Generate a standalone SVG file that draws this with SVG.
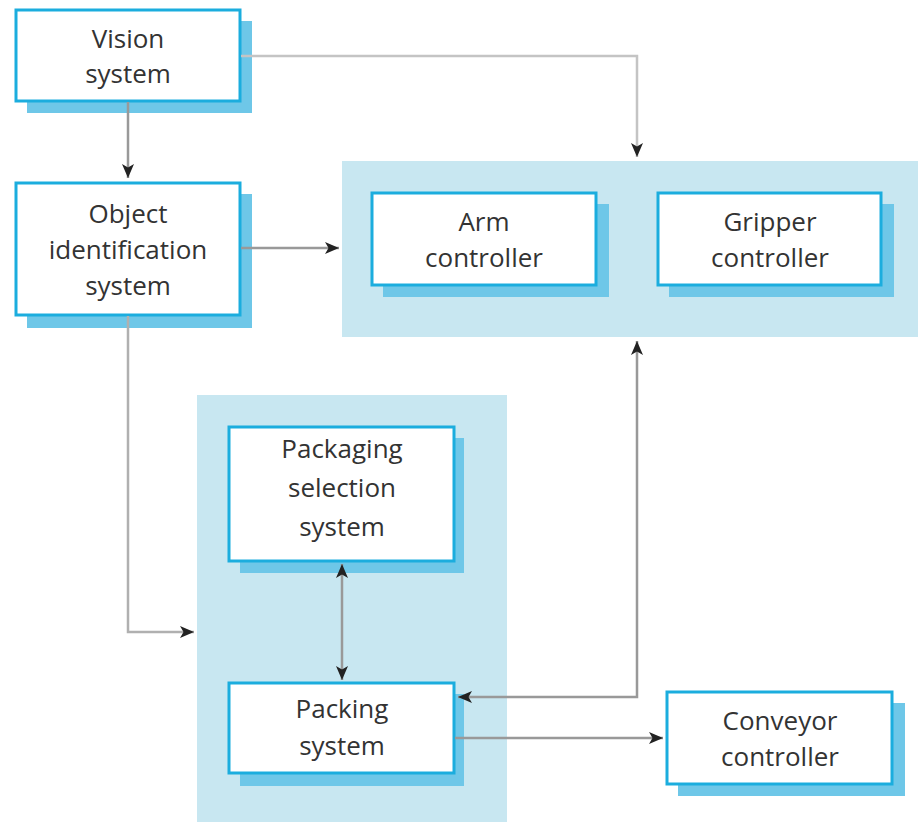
<svg xmlns="http://www.w3.org/2000/svg" width="918" height="822" viewBox="0 0 918 822">
<defs>
<style>
.panel{fill:#c8e7f1;}
.shadow{fill:#6ec7e8;}
.box{fill:#ffffff;stroke:#1badde;stroke-width:3;}
.lbl{font-family:"Open Sans","Noto Sans",sans-serif;font-size:26px;fill:#333333;text-anchor:middle;}
.conn{fill:none;stroke:#999999;stroke-width:2.5;}
</style>
<marker id="ah" markerUnits="userSpaceOnUse" markerWidth="16" markerHeight="16" viewBox="0 0 16 16" refX="15" refY="8" orient="auto-start-reverse">
<path d="M1,2 L15,8 L1,14 L4.5,8 Z" fill="#222222"/>
</marker>
</defs>
<rect width="918" height="822" fill="#ffffff"/>

<g id="panel-top"><rect class="panel" x="342" y="161" width="576" height="176"/></g>
<g id="panel-bottom"><rect class="panel" x="197" y="395" width="310" height="427"/></g>

<g id="vision">
<rect class="shadow" x="27" y="21" width="225" height="92"/>
<rect class="box" x="16" y="10" width="224" height="91"/>
<text class="lbl" x="128" y="48">Vision</text>
<text class="lbl" x="128" y="83">system</text>
</g>

<g id="object-id">
<rect class="shadow" x="27" y="194" width="225" height="134"/>
<rect class="box" x="16" y="183" width="224" height="132"/>
<text class="lbl" x="128" y="223">Object</text>
<text class="lbl" x="128" y="259">identification</text>
<text class="lbl" x="128" y="295">system</text>
</g>

<g id="arm">
<rect class="shadow" x="383" y="204" width="226" height="93"/>
<rect class="box" x="372" y="193" width="224" height="92"/>
<text class="lbl" x="484" y="231">Arm</text>
<text class="lbl" x="484" y="267">controller</text>
</g>

<g id="gripper">
<rect class="shadow" x="669" y="204" width="225" height="93"/>
<rect class="box" x="658" y="193" width="223" height="92"/>
<text class="lbl" x="770" y="231">Gripper</text>
<text class="lbl" x="770" y="267">controller</text>
</g>

<g id="packaging">
<rect class="shadow" x="240" y="438" width="224" height="135"/>
<rect class="box" x="229" y="427" width="225" height="134"/>
<text class="lbl" x="342" y="458">Packaging</text>
<text class="lbl" x="342" y="497">selection</text>
<text class="lbl" x="342" y="536">system</text>
</g>

<g id="packing">
<rect class="shadow" x="240" y="694" width="224" height="92"/>
<rect class="box" x="229" y="683" width="225" height="90"/>
<text class="lbl" x="342" y="718">Packing</text>
<text class="lbl" x="342" y="755">system</text>
</g>

<g id="conveyor">
<rect class="shadow" x="678" y="703" width="227" height="93"/>
<rect class="box" x="667" y="692" width="225" height="92"/>
<text class="lbl" x="780" y="730">Conveyor</text>
<text class="lbl" x="780" y="766">controller</text>
</g>

<g id="connectors">
<path class="conn" d="M128,102 V178" marker-end="url(#ah)"/>
<path class="conn" d="M241,56 H637 V157" marker-end="url(#ah)" style="stroke:#c4c4c4"/>
<path class="conn" d="M241,248 H339" marker-end="url(#ah)"/>
<path class="conn" d="M128,316 V632 H194" marker-end="url(#ah)" style="stroke:#b0b0b0"/>
<path class="conn" d="M342,564 V680" marker-start="url(#ah)" marker-end="url(#ah)"/>
<path class="conn" d="M458,697 H637 V341" marker-start="url(#ah)" marker-end="url(#ah)"/>
<path class="conn" d="M455,738 H663" marker-end="url(#ah)"/>
</g>
</svg>
